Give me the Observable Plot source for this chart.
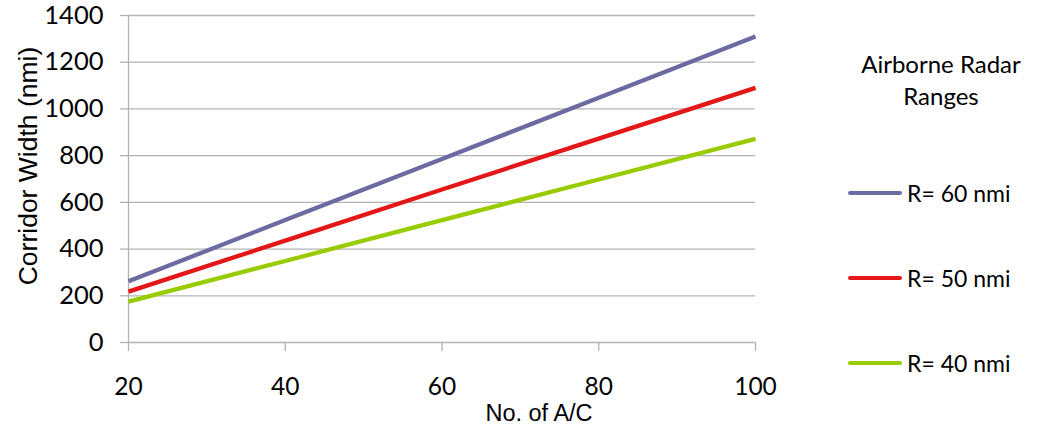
<!DOCTYPE html>
<html>
<head>
<meta charset="utf-8">
<script src="https://cdn.jsdelivr.net/npm/d3@7"></script>
<script src="https://cdn.jsdelivr.net/npm/@observablehq/plot@0.6"></script>
<style>
  html, body { margin: 0; padding: 0; background: #fff; }
  #wrap { position: relative; width: 1039px; height: 428px; font-family: Lato, "Open Sans", sans-serif; }
  #legend { position: absolute; left: 0; top: 0; width: 1039px; height: 428px; pointer-events: none; }
  .ltitle { position: absolute; left: 841px; width: 200px; top: 48px; text-align: center; font-size: 24px; line-height: 32px; color: #000; }
  .item { position: absolute; left: 848px; height: 26px; display: flex; align-items: center; font-size: 23px; color: #000; }
  .sw { width: 54px; height: 4px; border-radius: 2px; margin-right: 5px; }
</style>
</head>
<body>
<div id="wrap"></div>
<script>
// Data
const aircraft = [20, 40, 60, 80, 100];
const r60 = [262, 524, 786, 1048, 1310];
const r50 = [218, 436, 655, 873, 1090];
const r40 = [175, 349, 524, 698, 872];
const seriesNames = ["R= 60 nmi", "R= 50 nmi", "R= 40 nmi"];
const seriesColors = ["#6B6BA1", "#E31717", "#99CC00"];
const xTicks = [20, 40, 60, 80, 100];
const yTicks = [0, 200, 400, 600, 800, 1000, 1200, 1400];

const seriesValues = [r60, r50, r40];
const rows = [];
seriesValues.forEach((vals, i) => {
  vals.forEach((v, j) => rows.push({series: seriesNames[i], n: aircraft[j], w: v}));
});

const gray = "#B3B3B3";
const arial = "'Liberation Sans', Arial, sans-serif";
const chart = Plot.plot({
  width: 1039,
  height: 428,
  marginLeft: 128,
  marginRight: 284,
  marginTop: 15,
  marginBottom: 86,
  style: {fontFamily: "Lato, 'Open Sans', sans-serif", fontSize: "24px", color: "#000", background: "#fff"},
  x: {domain: [20, 100]},
  y: {domain: [0, 1400]},
  color: {domain: seriesNames, range: seriesColors},
  marks: [
    Plot.gridY(yTicks, {stroke: gray, strokeOpacity: 1, strokeWidth: 1.3}),
    Plot.ruleX([20], {stroke: gray, strokeWidth: 1.3}),
    Plot.axisY(yTicks, {tickSize: 8, tickPadding: 17, stroke: gray, fill: "#000", strokeWidth: 1.3, label: null, fontSize: 25.5, tickFormat: d => String(d)}),
    Plot.axisX(xTicks, {tickSize: 9, tickPadding: 26, stroke: gray, fill: "#000", strokeWidth: 1.3, label: null, fontSize: 24.5, tickFormat: d => String(d)}),
    Plot.line(rows, {x: "n", y: "w", z: "series", stroke: "series", strokeWidth: 4.3, strokeLinecap: "butt"}),
    Plot.text(["Corridor Width (nmi)"], {frameAnchor: "left", textAnchor: "middle", rotate: -90, dx: -100, dy: -13, fill: "#000", fontSize: 26.5, fontFamily: arial}),
    Plot.text(["No. of A/C"], {frameAnchor: "bottom", dx: 97, dy: 78, fill: "#000", fontSize: 23.5, fontFamily: arial})
  ]
});

const wrap = document.getElementById("wrap");
wrap.appendChild(chart);

// Legend (HTML overlay on the right)
const legend = document.createElement("div");
legend.id = "legend";
const title = document.createElement("div");
title.className = "ltitle";
title.innerHTML = "Airborne Radar<br>Ranges";
legend.appendChild(title);
const itemTops = [180, 265, 350];
seriesNames.forEach((name, i) => {
  const it = document.createElement("div");
  it.className = "item";
  it.style.top = itemTops[i] + "px";
  const sw = document.createElement("div");
  sw.className = "sw";
  sw.style.background = seriesColors[i];
  const tx = document.createElement("span");
  tx.textContent = name;
  it.appendChild(sw);
  it.appendChild(tx);
  legend.appendChild(it);
});
wrap.appendChild(legend);
</script>
</body>
</html>
